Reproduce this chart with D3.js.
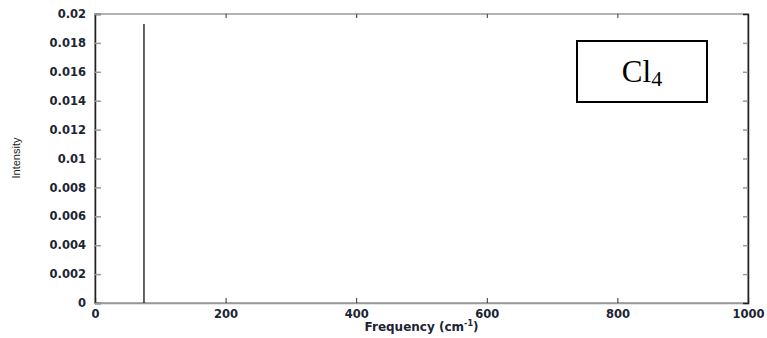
<!DOCTYPE html>
<html>
<head>
<meta charset="utf-8">
<script src="https://cdn.jsdelivr.net/npm/d3@7"></script>
<style>
  body { margin: 0; background: #fff; }
  svg { display: block; }
  .tick text { font-family: "DejaVu Sans", sans-serif; font-weight: bold; fill: #1c2433; }
</style>
</head>
<body>
<div class="chart"></div>
<script>
var margin = {top: 14, right: 19, bottom: 35, left: 95},
    width = 767 - margin.left - margin.right,
    height = 338 - margin.top - margin.bottom;

// data
var freqs = [75];
var intens = [0.0193];
var xTicks = [0, 200, 400, 600, 800, 1000];
var yTicks = [0, 0.002, 0.004, 0.006, 0.008, 0.01, 0.012, 0.014, 0.016, 0.018, 0.02];
var boxLabel = "Cl";
var boxSub = "4";

var svg = d3.select(".chart").append("svg")
    .attr("width", 767)
    .attr("height", 338);

var g = svg.append("g")
    .attr("transform", "translate(" + margin.left + "," + margin.top + ")");

var x = d3.scaleLinear().domain([0, 1000]).range([0, width]);
var y = d3.scaleLinear().domain([0, 0.02]).range([height, 0]);

// frame
g.append("rect")
    .attr("x", 0).attr("y", 0)
    .attr("width", width).attr("height", height)
    .attr("fill", "none").attr("stroke", "#999").attr("stroke-width", 1.5);

// bottom axis
var xa = g.append("g")
    .attr("transform", "translate(0," + height + ")")
    .call(d3.axisBottom(x).tickValues(xTicks).tickSize(-5).tickPadding(5).tickFormat(d3.format("d")));
xa.select(".domain").attr("stroke", "#999").attr("stroke-width", 1.5);
xa.selectAll(".tick line").attr("stroke", "#333");
xa.selectAll(".tick text").attr("font-size", 11.5).attr("dy", "0.85em");

// top ticks
var xt = g.append("g").call(d3.axisTop(x).tickValues(xTicks.slice(1, -1)).tickSize(-4).tickFormat(""));
xt.select(".domain").remove();
xt.selectAll(".tick line").attr("stroke", "#333");

// left axis
var ya = g.append("g")
    .call(d3.axisLeft(y).tickValues(yTicks).tickSize(-6).tickPadding(9).tickFormat(function(d) { return d3.format("")(+d.toFixed(3)); }));
ya.select(".domain").attr("stroke", "#222").attr("stroke-width", 1.5);
ya.selectAll(".tick line").attr("stroke", "#999").attr("stroke-width", 1.5);
ya.selectAll(".tick text").attr("font-size", 11.5);

// right ticks
var yr = g.append("g")
    .attr("transform", "translate(" + width + ",0)")
    .call(d3.axisRight(y).tickValues(yTicks.slice(1, -1)).tickSize(-5).tickFormat(""));
yr.select(".domain").attr("stroke", "#222").attr("stroke-width", 1.5);
yr.selectAll(".tick line").attr("stroke", "#999").attr("stroke-width", 1.5);

// stick spectrum
g.selectAll(".stick")
    .data(freqs)
  .enter().append("line")
    .attr("class", "stick")
    .attr("x1", function(d) { return x(d); })
    .attr("x2", function(d) { return x(d); })
    .attr("y1", y(0))
    .attr("y2", function(d, i) { return y(intens[i]); })
    .attr("stroke", "#111")
    .attr("stroke-width", 1.3);

// axis titles
svg.append("text")
    .attr("x", margin.left + width / 2)
    .attr("y", 331)
    .attr("text-anchor", "middle")
    .attr("font-family", "DejaVu Sans, sans-serif")
    .attr("font-weight", "bold")
    .attr("font-size", 12)
    .attr("fill", "#1c2433")
    .html("Frequency (cm<tspan dy='-5' font-size='8'>-1</tspan><tspan dy='5'>)</tspan>");

svg.append("text")
    .attr("transform", "translate(20,158) rotate(-90)")
    .attr("text-anchor", "middle")
    .attr("font-family", "Liberation Sans Narrow, Liberation Sans, sans-serif")
    .attr("font-size", 11)
    .attr("fill", "#222")
    .text("Intensity");

// label box
svg.append("rect")
    .attr("x", 577).attr("y", 41)
    .attr("width", 130).attr("height", 61)
    .attr("fill", "#fff").attr("stroke", "#000").attr("stroke-width", 2);

var lab = svg.append("text")
    .attr("x", 642)
    .attr("y", 82)
    .attr("text-anchor", "middle")
    .attr("font-family", "Liberation Serif, Times New Roman, serif")
    .attr("font-size", 31)
    .attr("fill", "#000");
lab.append("tspan").text(boxLabel);
lab.append("tspan").attr("dy", 4).attr("font-size", 22).text(boxSub);
</script>
</body>
</html>
